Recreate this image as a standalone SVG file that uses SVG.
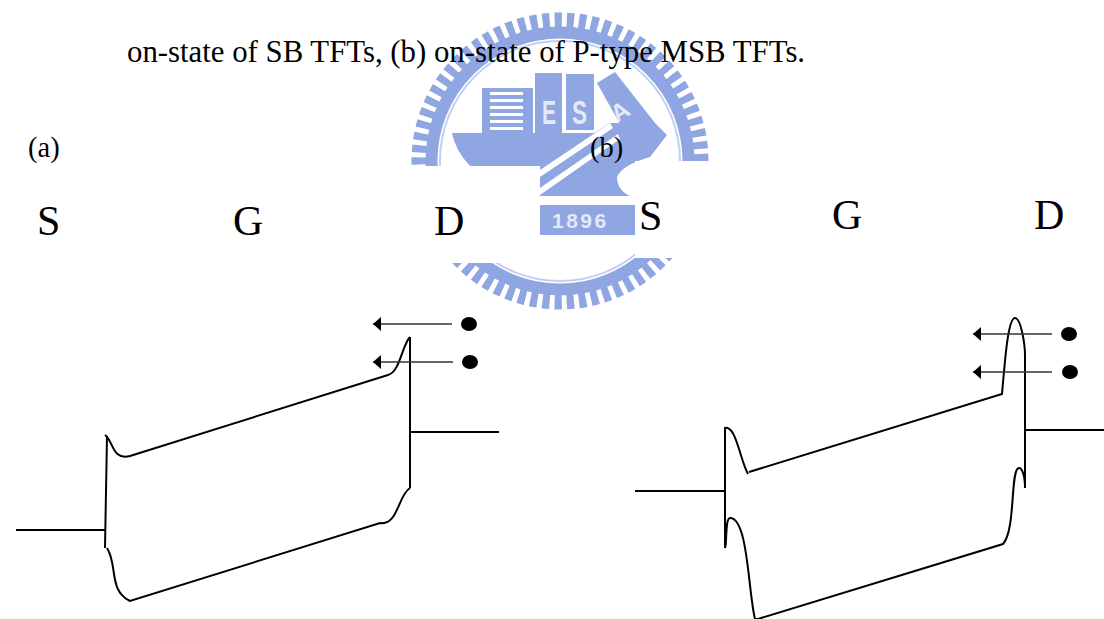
<svg xmlns="http://www.w3.org/2000/svg" width="1104" height="619" viewBox="0 0 1104 619">
<style>
.t{font-family:"Liberation Serif","Times New Roman",serif;fill:#000}
.sm{font-size:28.5px}
.lg{font-size:42px}
.wm{font-family:"Liberation Sans",Arial,sans-serif;fill:#e3e9f8;font-weight:700}
.c{fill:none;stroke:#000;stroke-width:2}
.a{fill:none;stroke:#333;stroke-width:1.3;marker-end:url(#h)}
.b{fill:#8fa6e2}
.w{fill:#fff}
</style>
<defs><marker id="h" markerUnits="userSpaceOnUse" markerWidth="9" markerHeight="14" refX="8" refY="7" orient="auto"><path d="M0 0L8 7L0 14Z" fill="#000"/></marker></defs>
<rect width="1104" height="619" fill="#fff"/>
<g id="watermark">
<circle cx="560" cy="161" r="141" fill="none" stroke="#8fa6e2" stroke-width="15" stroke-dasharray="7.2 5"/>
<circle cx="560" cy="161" r="128.500" fill="none" stroke="#8fa6e2" stroke-width="12"/>
<circle cx="560" cy="161" r="120" fill="none" stroke="#c3cfee" stroke-width="2"/>
<path class="b" d="M482 88H533V133H482Z"/>
<path class="w" d="M490 92H523V95H490ZM490 99H523V102H490ZM490 106H523V109H490ZM490 113H523V116H490ZM490 120H523V123H490ZM490 127H523V130H490Z"/>
<path class="b" d="M535 73H562V133H535ZM566 74H594V130H566Z"/>
<path class="b" d="M452 133H594L610 123L655 123L667 135L650 157Q622 165 617 177Q617 190 630 196H540V240H500L470 166Q455 150 452 133Z"/>
<path class="b" d="M597 83L615 72L655 123L640 140L625 133Z"/>
<path class="w" d="M597 100L610 122L594 133Z"/>
<path class="w" d="M540 170L610 123L613 128L540 177ZM540 188L618 134L620 139L540 195Z"/>
<text class="wm" x="542" y="124" font-size="33" textLength="14" lengthAdjust="spacingAndGlyphs">E</text>
<text class="wm" x="572" y="124" font-size="33" textLength="15" lengthAdjust="spacingAndGlyphs">S</text>
<text class="wm" font-size="24" transform="translate(617 123) rotate(-32)">A</text>
<rect class="b" x="540" y="205" width="95" height="30"/>
<text class="wm" x="552" y="228" font-size="21" letter-spacing="2.500">1896</text>
<path class="w" d="M400 166H540V263H400ZM635 161H720V258H635Z"/>
</g>
<text class="t" x="127" y="62" font-size="30.8">on-state of SB TFTs, (b) on-state of P-type MSB TFTs.</text>
<text class="t sm" x="28" y="157" id="label-a">(a)</text>
<text class="t sm" x="590" y="157" id="label-b">(b)</text>
<g id="labels-a">
<text class="t lg" x="37" y="235">S</text>
<text class="t lg" x="233" y="235">G</text>
<text class="t lg" x="434" y="235">D</text>
</g>
<g id="labels-b">
<text class="t lg" x="639" y="230">S</text>
<text class="t lg" x="832" y="229">G</text>
<text class="t lg" x="1034" y="229">D</text>
</g>
<g id="connectors">
<path class="c" d="M16 530H105M410 432H499M107 436L105 548M410 337V488"/>
<path class="c" d="M105 435C113 440 112 461 130 456L388 375C400 372 402 345 410 337"/>
<path class="c" d="M410 488C398 495 398 526 380 523L130 601C108 590 118 565 107 548"/>
<path class="c" d="M725 548V428C736 425 740 460 748 474M749 472L1002 394C1005 360 1008 318 1015 318C1021 318 1025 345 1025 355V488C1025 475 1022 468 1019 468C1010 468 1016 530 1003 544L758 619H755C748 590 748 518 730 518C725 518 727 545 725 548"/>
<path class="c" d="M635 491H725M1025 430H1105"/>
<path class="a" d="M452 324H373"/>
<path class="a" d="M453 362H373"/>
<path class="a" d="M1052 334H973"/>
<path class="a" d="M1052 372H973"/>
</g>
<g id="electrons">
<ellipse cx="469" cy="324" rx="8" ry="7"/>
<ellipse cx="470" cy="362" rx="8" ry="7"/>
<ellipse cx="1069" cy="334" rx="8" ry="7"/>
<ellipse cx="1070" cy="372" rx="8" ry="7"/>
</g>
</svg>
